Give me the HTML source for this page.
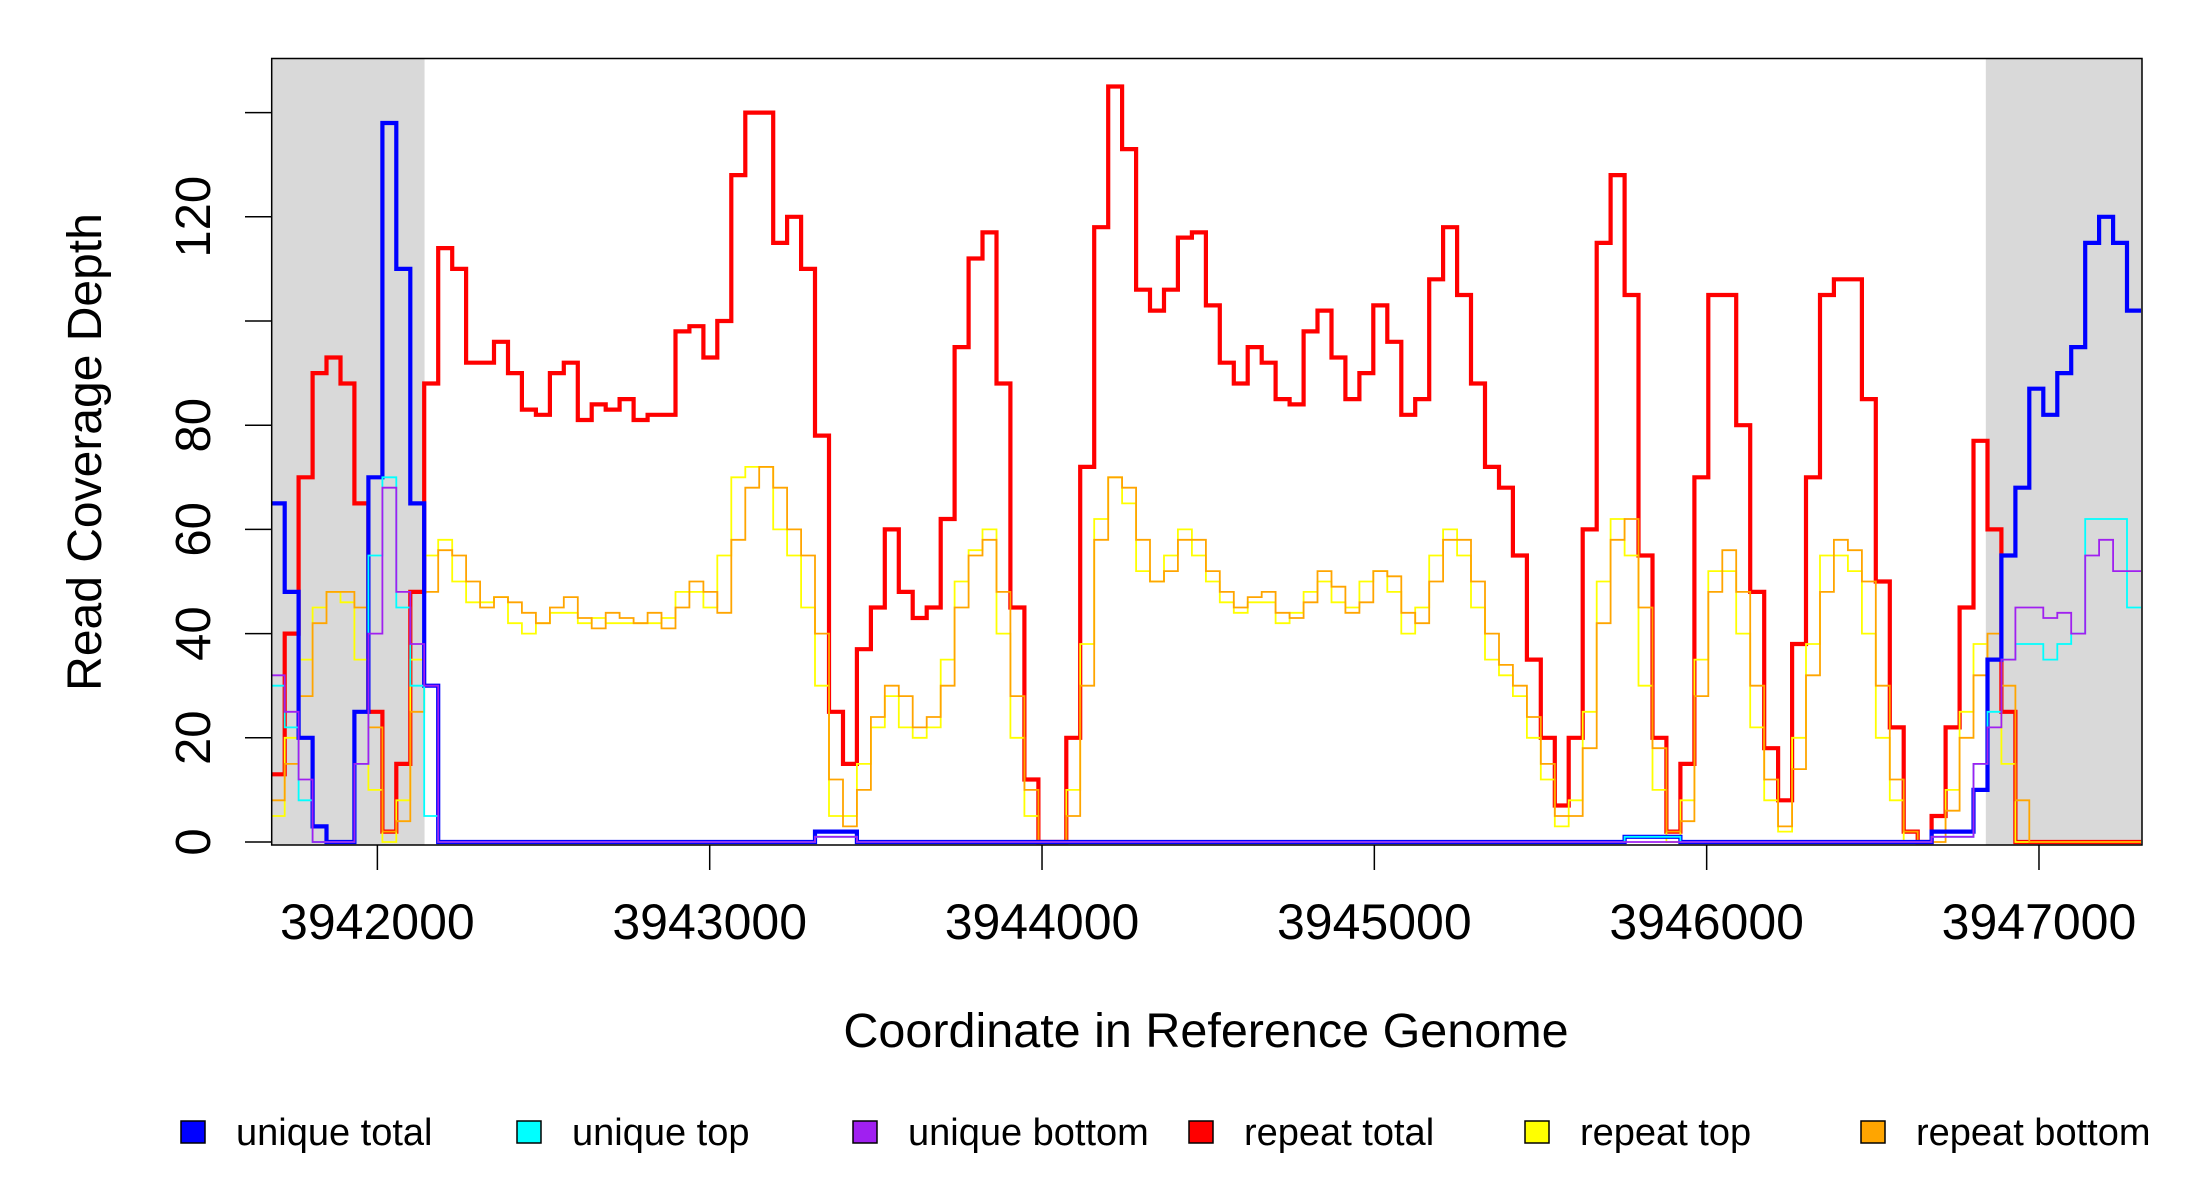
<!DOCTYPE html>
<html><head><meta charset="utf-8"><title>Read Coverage Depth</title>
<style>
html,body{margin:0;padding:0;background:#fff;}
svg{display:block;font-family:"Liberation Sans","DejaVu Sans",sans-serif;}
</style></head>
<body>
<svg id="chart" width="2200" height="1200" viewBox="0 0 2200 1200" xmlns="http://www.w3.org/2000/svg">
  <g id="shade"></g>
  <g id="series"></g>
  <rect x="271.7" y="58.5" width="1870.3" height="786.5" fill="none" stroke="#000" stroke-width="1.5"/>
  <g id="yaxis"></g>
  <g id="xaxis"></g>
  <text x="0" y="0" transform="translate(101,452) rotate(-90)" text-anchor="middle" font-size="48" fill="#000">Read Coverage Depth</text>
  <text x="1206" y="1047" text-anchor="middle" font-size="48.5" fill="#000">Coordinate in Reference Genome</text>
  <g id="legend"></g>
</svg>
<script>
// ---- data ----
const binStart = 3941679;
const binWidth = 42;
const yTicks = [0, 20, 40, 60, 80, 100, 120, 140];
const yTickLabels = ["0", "20", "40", "60", "80", "", "120", ""];
const xTicks = [3942000, 3943000, 3944000, 3945000, 3946000, 3947000];
const xTickLabels = ["3942000", "3943000", "3944000", "3945000", "3946000", "3947000"];
const shadedRegions = [[3941679, 3942142], [3946840, 3947310]];
const seriesNames = ["unique total", "unique top", "unique bottom", "repeat total", "repeat top", "repeat bottom"];

const repeatTotal = [13,40,70,90,93,88,65,25,2,15,48,88,114,110,92,92,96,90,83,82,90,92,81,84,83,85,81,82,82,98,99,93,100,128,140,140,115,120,110,78,25,15,37,45,60,48,43,45,62,95,112,117,88,45,12,0,0,20,72,118,145,133,106,102,106,116,117,103,92,88,95,92,85,84,98,102,93,85,90,103,96,82,85,108,118,105,88,72,68,55,35,20,7,20,60,115,128,105,55,20,2,15,70,105,105,80,48,18,8,38,70,105,108,108,85,50,22,2,0,5,22,45,77,60,25,0,0,0,0,0,0,0,0,0];
const repeatTop = [5,20,35,45,48,46,35,10,0,8,35,55,58,50,46,46,47,42,40,42,44,44,42,43,42,42,42,42,43,48,48,45,55,70,72,72,60,55,45,30,5,5,15,22,28,22,20,22,35,50,56,60,40,20,5,0,0,10,38,62,70,65,52,50,55,60,55,50,46,44,46,46,42,44,48,50,46,45,50,52,48,40,45,55,60,55,45,35,32,28,20,12,3,8,25,50,62,55,30,10,0,8,35,52,52,40,22,8,2,20,38,55,55,52,40,20,8,0,0,2,10,25,38,35,15,0,0,0,0,0,0,0,0,0];
const repeatBottom = [8,15,28,42,48,48,45,22,2,4,25,48,56,55,50,45,47,46,44,42,45,47,43,41,44,43,42,44,41,45,50,48,44,58,68,72,68,60,55,40,12,3,10,24,30,28,22,24,30,45,55,58,48,28,10,0,0,5,30,58,70,68,58,50,52,58,58,52,48,45,47,48,44,43,46,52,49,44,46,52,51,44,42,50,58,58,50,40,34,30,24,15,5,5,18,42,58,62,45,18,2,4,28,48,56,48,30,12,3,14,32,48,58,56,50,30,12,2,0,0,6,20,32,40,30,8,0,0,0,0,0,0,0,0];
const uniqueTotal = [65,48,20,3,0,0,25,70,138,110,65,30,0,0,0,0,0,0,0,0,0,0,0,0,0,0,0,0,0,0,0,0,0,0,0,0,0,0,0,2,2,2,0,0,0,0,0,0,0,0,0,0,0,0,0,0,0,0,0,0,0,0,0,0,0,0,0,0,0,0,0,0,0,0,0,0,0,0,0,0,0,0,0,0,0,0,0,0,0,0,0,0,0,0,0,0,0,1,1,1,1,0,0,0,0,0,0,0,0,0,0,0,0,0,0,0,0,0,0,2,2,2,10,35,55,68,87,82,90,95,115,120,115,102];
const uniqueTop = [30,22,8,0,0,0,15,55,70,45,30,5,0,0,0,0,0,0,0,0,0,0,0,0,0,0,0,0,0,0,0,0,0,0,0,0,0,0,0,1,1,1,0,0,0,0,0,0,0,0,0,0,0,0,0,0,0,0,0,0,0,0,0,0,0,0,0,0,0,0,0,0,0,0,0,0,0,0,0,0,0,0,0,0,0,0,0,0,0,0,0,0,0,0,0,0,0,1,1,1,1,0,0,0,0,0,0,0,0,0,0,0,0,0,0,0,0,0,0,1,1,1,15,25,35,38,38,35,38,40,62,62,62,45];
const uniqueBottom = [32,25,12,0,0,0,15,40,68,48,38,30,0,0,0,0,0,0,0,0,0,0,0,0,0,0,0,0,0,0,0,0,0,0,0,0,0,0,0,1,1,1,0,0,0,0,0,0,0,0,0,0,0,0,0,0,0,0,0,0,0,0,0,0,0,0,0,0,0,0,0,0,0,0,0,0,0,0,0,0,0,0,0,0,0,0,0,0,0,0,0,0,0,0,0,0,0,0,0,0,0,0,0,0,0,0,0,0,0,0,0,0,0,0,0,0,0,0,0,1,1,1,15,22,35,45,45,43,44,40,55,58,52,52];

// ---- axes ----
const X0 = 271.7, X1 = 2142, Y0 = 58.5, YB = 842;
const xMin = 3941682, xMax = 3947310;
function xs(bp){ return X0 + (bp - xMin) / (xMax - xMin) * (X1 - X0); }
function ys(v){ return YB - v * 5.21; }
const NS = "http://www.w3.org/2000/svg";
function mk(tag, attrs, parent){
  const e = document.createElementNS(NS, tag);
  for (const k in attrs) e.setAttribute(k, attrs[k]);
  parent.appendChild(e);
  return e;
}

const shade = document.getElementById('shade');
shadedRegions.forEach(function(r){
  const rc = mk('rect', {x: Math.max(X0, xs(r[0])), y: Y0, width: Math.min(X1, xs(r[1])) - Math.max(X0, xs(r[0])), height: 845 - Y0, fill: '#d9d9d9'}, shade);
  
  
});

const ser = document.getElementById('series');
function stepPath(vals){
  let d = '';
  for (let i = 0; i < vals.length; i++){
    const xa = xs(binStart + i * binWidth), xb = xs(binStart + (i + 1) * binWidth);
    const xc = Math.max(X0, Math.min(X1, xa)), xd = Math.max(X0, Math.min(X1, xb));
    const y = ys(vals[i]).toFixed(1);
    d += (i === 0 ? 'M' : 'L') + xc.toFixed(1) + ',' + y + 'L' + xd.toFixed(1) + ',' + y;
  }
  return d;
}
const drawList = [
  [repeatTotal, '#ff0000', 4.2, 'repeat-total-line'],
  [repeatTop, '#ffff00', 1.8, 'repeat-top-line'],
  [repeatBottom, '#ffa500', 1.8, 'repeat-bottom-line'],
  [uniqueTotal, '#0000ff', 4.2, 'unique-total-line'],
  [uniqueTop, '#00ffff', 1.8, 'unique-top-line'],
  [uniqueBottom, '#a020f0', 1.8, 'unique-bottom-line']
];
drawList.forEach(function(s){
  const p = mk('path', {d: stepPath(s[0]), fill: 'none', stroke: s[1], 'stroke-width': s[2], 'stroke-linejoin': 'miter'}, ser);
  
  
});

const ya = document.getElementById('yaxis');
yTicks.forEach(function(t, i){
  const y = ys(t);
  const l = mk('line', {x1: 245, x2: X0, y1: y, y2: y, stroke: '#000', 'stroke-width': 1.5}, ya);
  
  
  if (yTickLabels[i]){
    const tx = mk('text', {transform: 'translate(210,' + y + ') rotate(-90)', 'text-anchor': 'middle', 'font-size': 49, fill: '#000'}, ya);
    tx.textContent = yTickLabels[i];
    
    
  }
});

const xa = document.getElementById('xaxis');
xTicks.forEach(function(t, i){
  const x = xs(t);
  const l = mk('line', {x1: x, x2: x, y1: 845, y2: 870, stroke: '#000', 'stroke-width': 1.5}, xa);
  
  
  const tx = mk('text', {x: x, y: 939, 'text-anchor': 'middle', 'font-size': 50, fill: '#000'}, xa);
  tx.textContent = xTickLabels[i];
  
  
});

const lg = document.getElementById('legend');
const legendColors = ['#0000ff', '#00ffff', '#a020f0', '#ff0000', '#ffff00', '#ffa500'];
seriesNames.forEach(function(n, i){
  const bx = 181 + i * 336;
  const g = mk('g', {}, lg);
  
  
  const r = mk('rect', {x: bx, y: 1121, width: 24, height: 22, fill: legendColors[i], stroke: '#000', 'stroke-width': 1.5}, g);
  
  
  const t = mk('text', {x: bx + 55, y: 1145, 'font-size': 38, fill: '#000'}, g);
  t.textContent = n;
  
  
});
</script>
</body></html>
